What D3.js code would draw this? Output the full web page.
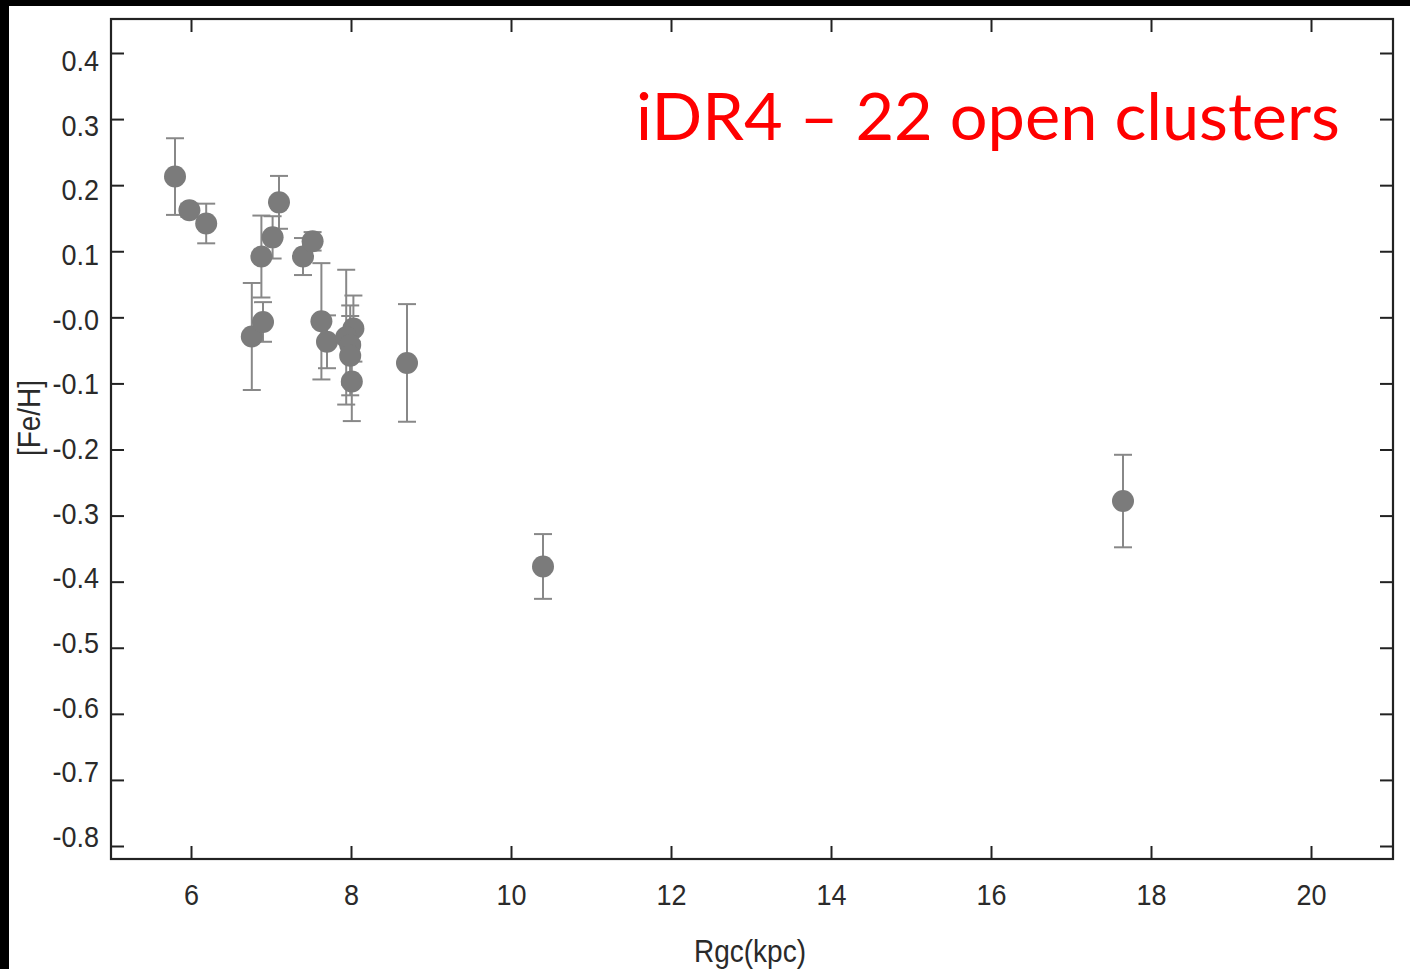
<!DOCTYPE html>
<html>
<head>
<meta charset="utf-8">
<script src="https://cdn.jsdelivr.net/npm/d3@7"></script>
<style>
  html, body { margin: 0; padding: 0; background: #fff; }
  svg { display: block; }
</style>
</head>
<body>
<svg id="chart" width="1410" height="969"></svg>
<script>
// ---- data ----
const rgc = [5.80, 5.98, 6.19, 7.10, 7.02, 6.88, 6.76, 6.90, 7.40, 7.52, 7.63, 7.70, 8.03, 7.94, 7.99, 7.99, 8.01, 8.70, 10.40, 17.65];
const feh = [0.213, 0.162, 0.142, 0.174, 0.121, 0.092, -0.029, -0.007, 0.092, 0.115, -0.006, -0.037, -0.017, -0.030, -0.042, -0.058, -0.097, -0.069, -0.377, -0.278];
const err = [0.058, 0.010, 0.030, 0.040, 0.032, 0.062, 0.081, 0.030, 0.028, 0.014, 0.088, 0.040, 0.050, 0.102, 0.060, 0.060, 0.060, 0.089, 0.049, 0.070];
const xTicks = [6, 8, 10, 12, 14, 16, 18, 20];
const yTicks = [0.4, 0.3, 0.2, 0.1, 0.0, -0.1, -0.2, -0.3, -0.4, -0.5, -0.6, -0.7, -0.8];
const yTickLabels = ["0.4", "0.3", "0.2", "0.1", "-0.0", "-0.1", "-0.2", "-0.3", "-0.4", "-0.5", "-0.6", "-0.7", "-0.8"];
const title = "iDR4 \u2013 22 open clusters";
const xTitle = "Rgc(kpc)";
const yTitle = "[Fe/H]";

(function () {
  // ---- layout ----
  const svg = d3.select("#chart");
  const W = 1410, H = 969;
  const pL = 111, pR = 1393, pT = 19, pB = 859;
  const sy = 1.12; // vertical stretch of the tick-label font

  // black strips (slide frame)
  svg.append("rect").attr("x", 0).attr("y", 0).attr("width", W).attr("height", 6).attr("fill", "#000");
  svg.append("rect").attr("x", 0).attr("y", 0).attr("width", 9).attr("height", H).attr("fill", "#000");

  const x = d3.scaleLinear().domain([5.0, 21.025]).range([pL, pR]);
  const y = d3.scaleLinear().domain([-0.8, 0.4]).range([846, 53]);
  // tick labels in the reference sit on a slightly tighter grid than the ticks
  const yLab = d3.scaleLinear().domain([-0.8, 0.4]).range([836, 60]);

  const axisColor = "#222";
  const tickFont = "'Liberation Sans', Arial, sans-serif";

  // axes with inward ticks
  const gB = svg.append("g").attr("transform", `translate(0,${pB})`)
    .call(d3.axisBottom(x).tickValues(xTicks).tickSizeInner(-13).tickSizeOuter(0).tickFormat(d3.format("d")));
  const gT = svg.append("g").attr("transform", `translate(0,${pT})`)
    .call(d3.axisTop(x).tickValues(xTicks).tickSizeInner(-13).tickSizeOuter(0).tickFormat(""));
  const gL = svg.append("g").attr("transform", `translate(${pL},0)`)
    .call(d3.axisLeft(y).tickValues(yTicks).tickSizeInner(-13).tickSizeOuter(0)
      .tickFormat((d, i) => yTickLabels[i]));
  const gR = svg.append("g").attr("transform", `translate(${pR},0)`)
    .call(d3.axisRight(y).tickValues(yTicks).tickSizeInner(-13).tickSizeOuter(0).tickFormat(""));

  [gB, gT, gL, gR].forEach(g => {
    g.select(".domain").remove();
    g.selectAll(".tick line").attr("stroke", axisColor).attr("stroke-width", 2);
    g.selectAll(".tick text").attr("fill", "#2a2a2a").attr("font-family", tickFont).attr("font-size", 27);
  });
  // x labels: baseline at ~905
  gB.selectAll(".tick text").attr("dy", null).attr("y", 0)
    .attr("transform", `translate(0,46) scale(1,${sy})`);
  // y labels: centered on yLab positions, right edge at ~99
  gL.selectAll(".tick text").attr("dy", null).attr("x", 0).attr("y", 0)
    .attr("transform", d => `translate(-12,${yLab(d) - y(d) + 10.5}) scale(1,${sy})`);

  // frame
  svg.append("rect").attr("x", pL).attr("y", pT).attr("width", pR - pL).attr("height", pB - pT)
    .attr("fill", "none").attr("stroke", axisColor).attr("stroke-width", 2.2);

  // ---- data marks ----
  const gray = "#7b7b7b";
  const data = rgc.map((r, i) => ({ r, f: feh[i], e: err[i] }));
  const g = svg.append("g");
  const cap = 9;
  const eb = g.selectAll("g.eb").data(data).enter().append("g").attr("class", "eb");
  eb.append("line").attr("x1", d => x(d.r)).attr("x2", d => x(d.r))
    .attr("y1", d => y(d.f + d.e)).attr("y2", d => y(d.f - d.e))
    .attr("stroke", "#888").attr("stroke-width", 2);
  eb.append("line").attr("x1", d => x(d.r) - cap).attr("x2", d => x(d.r) + cap)
    .attr("y1", d => y(d.f + d.e)).attr("y2", d => y(d.f + d.e))
    .attr("stroke", "#888").attr("stroke-width", 2);
  eb.append("line").attr("x1", d => x(d.r) - cap).attr("x2", d => x(d.r) + cap)
    .attr("y1", d => y(d.f - d.e)).attr("y2", d => y(d.f - d.e))
    .attr("stroke", "#888").attr("stroke-width", 2);
  g.selectAll("circle").data(data).enter().append("circle")
    .attr("cx", d => x(d.r)).attr("cy", d => y(d.f)).attr("r", 11)
    .attr("fill", gray);

  // ---- titles ----
  svg.append("text").attr("transform", `translate(750,962) scale(1,${sy})`).attr("text-anchor", "middle")
    .attr("font-family", tickFont).attr("font-size", 28).attr("fill", "#2a2a2a").text(xTitle);
  svg.append("text").attr("transform", `translate(40,418) rotate(-90) scale(1,${sy})`).attr("text-anchor", "middle")
    .attr("font-family", tickFont).attr("font-size", 28).attr("fill", "#2a2a2a").text(yTitle);

  const t = svg.append("text").attr("x", 636).attr("y", 140)
    .attr("font-family", "Lato, 'Open Sans', sans-serif").attr("font-size", 64)
    .attr("fill", "#ff0000").text(title);
  const len = t.node().getComputedTextLength();
  t.attr("font-size", 64 * 704 / len);
})();
</script>
</body>
</html>
